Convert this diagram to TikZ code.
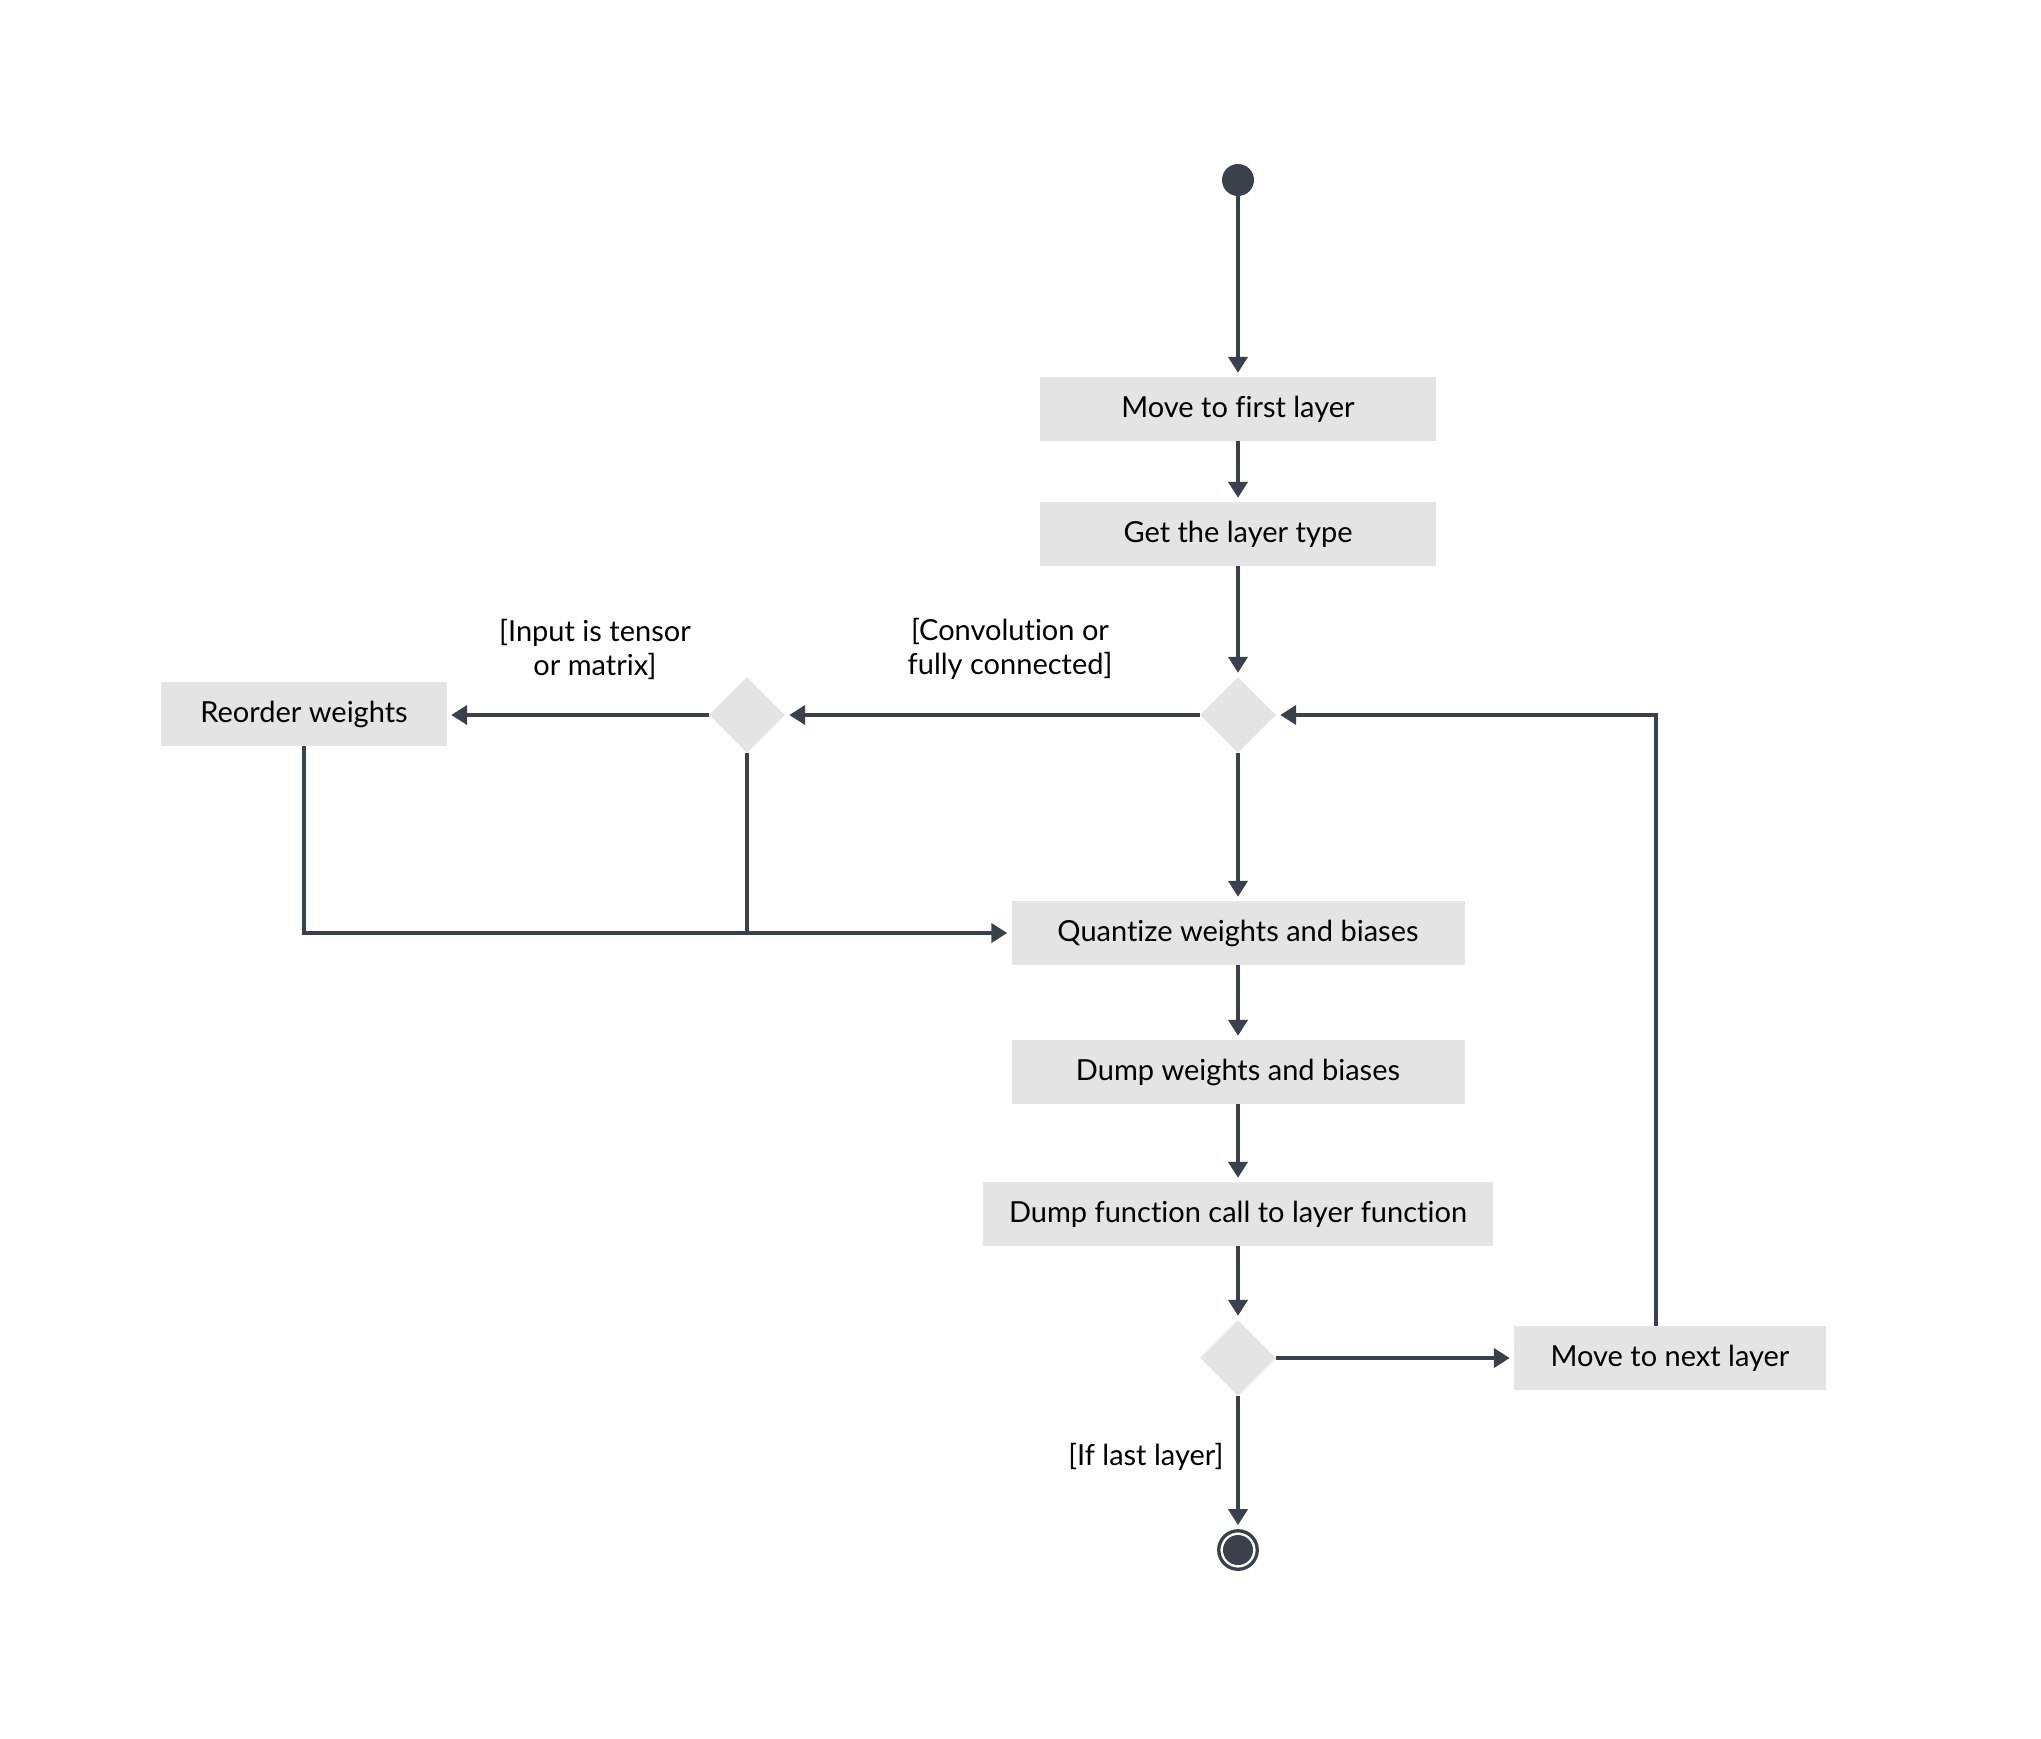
\documentclass[tikz,border=0pt]{standalone}
\usepackage{fontspec}
\setmainfont{Lato}[Ligatures={NoCommon}]
\usetikzlibrary{arrows.meta,shapes.geometric}
\definecolor{ink}{HTML}{3B414B}
\definecolor{boxfill}{HTML}{E3E4E3}
\begin{document}
\begin{tikzpicture}[x=1pt,y=-1pt,
  stepbox/.style={fill=boxfill, draw=none, minimum height=64pt, inner sep=0pt, font=\fontsize{29}{34}\selectfont, text=black},
  decision/.style={diamond, fill=boxfill, draw=none, minimum width=76pt, minimum height=76pt, inner sep=0pt},
  flow/.style={draw=ink, line width=4pt, -{Triangle[length=16pt,width=19pt]}, shorten >=4pt},
  plain/.style={draw=ink, line width=4pt},
  guard/.style={font=\fontsize{29}{34}\selectfont, align=center, text=black}
]
\useasboundingbox (0,0) rectangle (2041,1738);
\node[circle, fill=ink, minimum size=32pt, inner sep=0pt] (start) at (1238,180) {};
\node[stepbox, minimum width=396pt] (first) at (1238,409) {Move to first layer};
\node[stepbox, minimum width=396pt] (type) at (1238,534) {Get the layer type};
\node[decision] (d1) at (1238,715) {};
\node[decision] (d2) at (747,715) {};
\node[stepbox, minimum width=286pt] (reorder) at (304,714) {Reorder weights};
\node[stepbox, minimum width=453pt] (quant) at (1238,933) {Quantize weights and biases};
\node[stepbox, minimum width=453pt] (dumpw) at (1238,1072) {Dump weights and biases};
\node[stepbox, minimum width=510pt] (dumpf) at (1238,1214) {Dump function call to layer function};
\node[decision] (d3) at (1238,1358) {};
\node[stepbox, minimum width=312pt] (next) at (1670,1358) {Move to next layer};
\node[circle, draw=ink, line width=3.3pt, fill=white, minimum size=38.5pt, inner sep=0pt] (end) at (1238,1550) {};
\node[circle, fill=ink, minimum size=30pt, inner sep=0pt] (endin) at (end) {};

\node[guard] (g1) at (595,649) {[Input is tensor\\or matrix]};
\node[guard] (g2) at (1010,649) {[Convolution or\\fully connected]};
\node[guard, anchor=east] (g3) at (1227,1457) {[If last layer]};

\draw[flow] (start) -- (first);
\draw[flow] (first) -- (type);
\draw[flow] (type) -- (d1);
\draw[flow] (d1) -- (d2);
\draw[flow] (d2.west) -- (d2.west -| reorder.east);
\draw[flow] (d1) -- (quant);
\draw[flow] (reorder.south) |- (quant);
\draw[plain] (d2.south) -- (d2.south |- quant.west);
\draw[flow] (quant) -- (dumpw);
\draw[flow] (dumpw) -- (dumpf);
\draw[flow] (dumpf) -- (d3);
\draw[flow] (d3) -- (next);
\draw[flow] (d3) -- (end);
\draw[flow] ([xshift=-14pt]next.north) |- (d1);
\end{tikzpicture}
\end{document}
